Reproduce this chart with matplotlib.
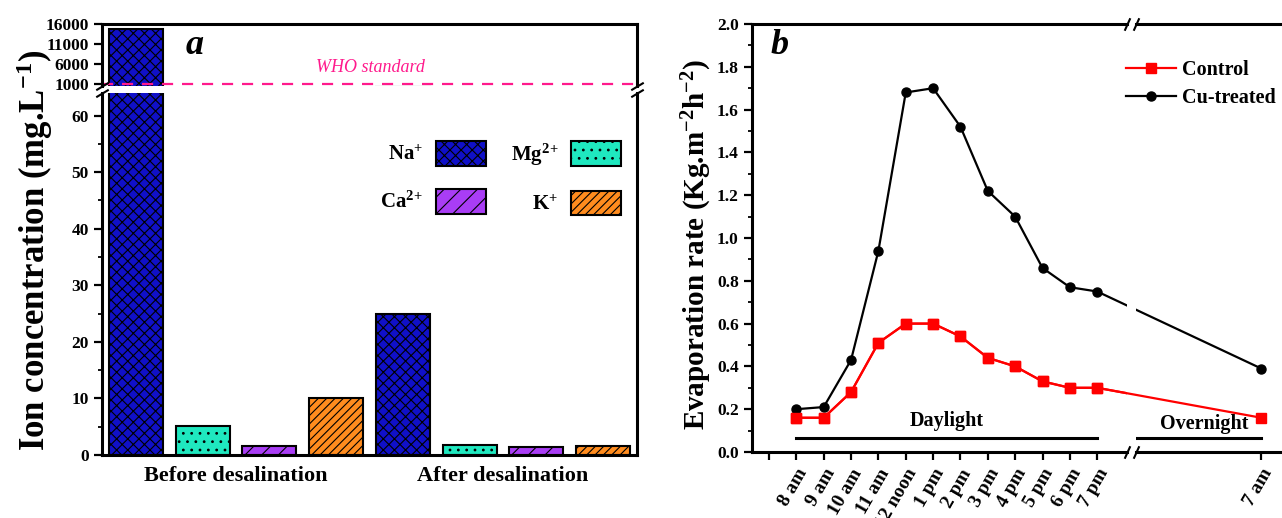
import matplotlib
matplotlib.use("Agg")
import matplotlib.pyplot as plt
import numpy as np

plt.rcParams['font.family'] = 'Liberation Serif'
plt.rcParams['font.weight'] = 'bold'
plt.rcParams['mathtext.fontset'] = 'custom'
plt.rcParams['mathtext.rm'] = 'Liberation Serif:bold'
plt.rcParams['mathtext.bf'] = 'Liberation Serif:bold'
plt.rcParams['mathtext.default'] = 'bf'
plt.rcParams['hatch.linewidth'] = 0.8

# data, panel a
groups = ["Before desalination", "After desalination"]
ions = ["Na$^{+}$", r"Mg$^{2\!+}$", r"Ca$^{2\!+}$", "K$^{+}$"]
before = [14700, 5.2, 1.6, 10.1]
after = [25, 1.8, 1.4, 1.6]
who_limit = 1000
ion_colors = ['#1010c8', '#1fe8bf', '#a93df5', '#ff8c1e']
ion_hatch = ['xxx', '..', '//', '////']

# data, panel b
times = ["8 am", "9 am", "10 am", "11 am", "12 noon", "1 pm", "2 pm", "3 pm",
         "4 pm", "5 pm", "6 pm", "7 pm", "7 am"]
control = [0.16, 0.16, 0.28, 0.51, 0.60, 0.60, 0.54, 0.44, 0.40, 0.33, 0.30, 0.30, 0.16]
cu_treated = [0.20, 0.21, 0.43, 0.94, 1.68, 1.70, 1.52, 1.22, 1.10, 0.86, 0.77, 0.75, 0.39]

W, H = 1282, 518
fig = plt.figure(figsize=(W / 100, H / 100), dpi=100)

def box(l, t, r, b):
    return [l / W, 1 - b / H, (r - l) / W, (b - t) / H]

spine_w = 2.2

# ---------------- panel a ----------------
ax_up = fig.add_axes(box(102, 24, 637, 86))
ax_lo = fig.add_axes(box(102, 93, 637, 455))

n = len(ions)
pos = np.arange(2 * n)
vals = before + after
for ax in (ax_up, ax_lo):
    bars = ax.bar(pos, vals, width=0.81, color=ion_colors * 2, edgecolor='black',
                  linewidth=1.5)
    for i, b in enumerate(bars):
        b.set_hatch(ion_hatch[i % n])
    ax.set_xlim(-0.51, 2 * n - 0.49)
    for s in ax.spines.values():
        s.set_linewidth(spine_w)
    ax.tick_params(axis='y', direction='out', length=6, width=1.6, labelsize=12.5)
    ax.tick_params(axis='y', which='minor', direction='out', length=3, width=1.3)

ax_up.set_ylim(400, 16000)
ax_up.set_yticks([1000, 6000, 11000, 16000])
ax_up.spines['bottom'].set_visible(False)
ax_up.set_xticks([])
ax_up.axhline(who_limit, color='#ff1a8c', lw=1.6, ls=(0, (5, 4)), clip_on=False)
fig.text(370 / W, 1 - 68 / H, "WHO standard", color='#ff1a8c', style='italic',
         fontweight='normal', fontsize=13, ha='center', va='center')

ax_lo.set_ylim(0, 64)
ax_lo.set_yticks(np.arange(0, 61, 10))
ax_lo.set_yticks(np.arange(5, 61, 10), minor=True)
ax_lo.spines['top'].set_visible(False)
ax_lo.set_xticks([(n - 1) / 2, n + (n - 1) / 2])
ax_lo.set_xticklabels(groups, fontsize=16)
ax_lo.tick_params(axis='x', length=0, pad=8)

# break marks
mk = dict(marker=[(-1, -0.6), (1, 0.6)], markersize=9, linestyle='none',
          color='k', mec='k', mew=1.5, clip_on=False)
ax_up.plot([0, 1], [0, 0], transform=ax_up.transAxes, **mk)
ax_lo.plot([0, 1], [1, 1], transform=ax_lo.transAxes, **mk)

handles = [bars[0], bars[2], bars[1], bars[3]]
labels = [ions[0], ions[2], ions[1], ions[3]]
ax_lo.legend(handles, labels, ncol=2, markerfirst=False, frameon=False,
             loc='upper right', bbox_to_anchor=(0.985, 0.89), borderaxespad=0,
             fontsize=15, handlelength=2.4, handleheight=1.45,
             labelspacing=1.1, columnspacing=1.2, handletextpad=0.6)

fig.text(35 / W, 1 - 250 / H, "Ion concentration (mg.L$^{-1}$)", rotation=90,
         fontsize=25, ha='center', va='center')
fig.text(195 / W, 1 - 45 / H, "a", fontsize=26, style='italic', ha='center', va='center')

# ---------------- panel b ----------------
px_unit = 27.35
x0 = 769  # pixel of position 0
positions = list(range(1, 13)) + [18]

left_r = 1127
right_l = 1136
ax_b1 = fig.add_axes(box(752, 24, left_r, 452))
ax_b2 = fig.add_axes(box(right_l, 24, W + 2, 452))

lims1 = ((752 - x0) / px_unit, (left_r - x0) / px_unit)
lims2 = ((right_l - x0) / px_unit, (W + 2 - x0) / px_unit)

for ax, lims in ((ax_b1, lims1), (ax_b2, lims2)):
    ax.plot(positions, control, '-s', color='#ff0000', lw=1.6, ms=6.5,
            label='Control', clip_on=False if ax is ax_b2 else True)
    ax.plot(positions, cu_treated, '-o', color='black', lw=1.6, ms=6.5,
            label='Cu-treated')
    ax.set_xlim(*lims)
    ax.set_ylim(0, 2.0)
    for s in ax.spines.values():
        s.set_linewidth(spine_w)
    ax.tick_params(axis='both', direction='out', length=6, width=1.6, labelsize=12.5)
    ax.tick_params(axis='x', labelsize=14, pad=4)
    ax.tick_params(axis='y', which='minor', direction='out', length=3, width=1.3)

ax_b1.spines['right'].set_visible(False)
ax_b2.spines['left'].set_visible(False)
ax_b2.spines['right'].set_visible(False)
ax_b2.tick_params(axis='y', which='both', left=False, labelleft=False)

ax_b1.set_yticks(np.arange(0, 2.01, 0.2))
ax_b1.set_yticks(np.arange(0.1, 2.0, 0.2), minor=True)
ax_b1.yaxis.set_major_formatter(matplotlib.ticker.FormatStrFormatter('%.1f'))

ax_b1.set_xticks([0] + positions[:12])
ax_b1.set_xticklabels([""] + times[:12], rotation=60, ha='right',
                      rotation_mode='anchor')
ax_b2.set_xticks(positions[12:])
ax_b2.set_xticklabels(times[12:], rotation=60, ha='right', rotation_mode='anchor')

# period bars
ax_b1.plot([positions[0], positions[11]], [0.065, 0.065], color='black', lw=2.2)
ax_b2.plot([lims2[0], positions[12]], [0.065, 0.065], color='black', lw=2.2)
ax_b1.text((positions[0] + positions[11]) / 2, 0.145, "Daylight", fontsize=14.5,
           ha='center', va='center')
ax_b2.text(15.9, 0.13, "Overnight", fontsize=14.5, ha='center', va='center')

mk2 = dict(marker=[(-0.45, -1), (0.45, 1)], markersize=9, linestyle='none',
           color='k', mec='k', mew=1.5, clip_on=False)
ax_b1.plot([1, 1], [0, 1], transform=ax_b1.transAxes, **mk2)
ax_b2.plot([0, 0], [0, 1], transform=ax_b2.transAxes, **mk2)

h, l = ax_b1.get_legend_handles_labels()
fig.legend(h, l, loc='upper left', bbox_to_anchor=(1126 / W, 1 - 60 / H),
           frameon=False, fontsize=14.5, handlelength=2.5, handletextpad=0.3,
           labelspacing=0.4, borderaxespad=0, borderpad=0)

fig.text(697 / W, 1 - 245 / H, "Evaporation rate (Kg.m$^{-2}$h$^{-2}$)", rotation=90,
         fontsize=21, ha='center', va='center')
fig.text(780 / W, 1 - 45 / H, "b", fontsize=26, style='italic', ha='center', va='center')

fig.savefig("out.png", dpi=100)
